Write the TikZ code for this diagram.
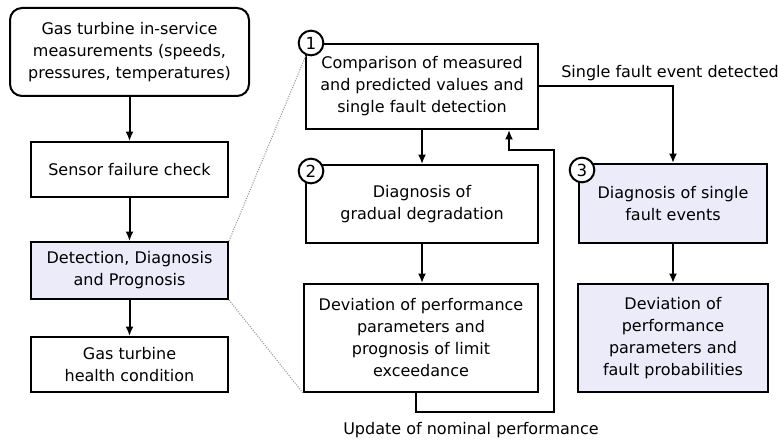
\documentclass[tikz,border=0pt]{standalone}
\usepackage{fontspec}
\setmainfont{DejaVu Sans}
\usetikzlibrary{arrows.meta,calc}

\definecolor{paleblue}{RGB}{235,235,250}

\tikzset{
    box/.style={draw, line width=1.5pt, align=center, inner sep=0pt,
        font=\fontsize{12}{16.5}\selectfont},
    hlbox/.style={box, fill=paleblue},
    num/.style={draw, circle, fill=white, line width=1.5pt, inner sep=0pt,
        minimum size=18.5pt, font=\fontsize{12.5}{12.5}\selectfont},
    flow/.style={line width=1.5pt, -{Latex[length=7pt,width=6pt]}},
    zoomline/.style={gray!80, densely dotted, line width=0.8pt},
    lbl/.style={inner sep=0pt, font=\fontsize{12}{14}\selectfont},
}

\begin{document}
\begin{tikzpicture}[x=0.75pt, y=-0.75pt]
    \useasboundingbox (0,0) rectangle (778,445);

    % ================= left: overall chain =================
    % 1. boxes
    \node[box, rounded corners=9pt, minimum width=179.25pt, minimum height=66pt] (meas) at (129.5,52)
        {Gas turbine in-service\\measurements (speeds,\\pressures, temperatures)};
    \node[box, minimum width=147.75pt, minimum height=41.25pt] (sensor) at (129.5,169.5)
        {Sensor failure check};
    \node[hlbox, minimum width=147.75pt, minimum height=42.75pt] (ddp) at (129.5,270.5)
        {Detection, Diagnosis\\and Prognosis};
    \node[box, minimum width=147.75pt, minimum height=41.25pt] (health) at (129.5,364.5)
        {Gas turbine\\health condition};

    % 2. arrows
    \draw[flow] (meas) -- (sensor);
    \draw[flow] (sensor) -- (ddp);
    \draw[flow] (ddp) -- (health);

    % ================= middle: gradual degradation =================
    % 1. boxes
    \node[box, minimum width=174pt, minimum height=63.75pt] (cmp) at (422,86.5)
        {Comparison of measured\\and predicted values and\\single fault detection};
    \node[box, minimum width=174pt, minimum height=58.5pt] (grad) at (422,204)
        {Diagnosis of\\gradual degradation};
    \node[box, minimum width=175.5pt, minimum height=81pt] (devp) at (421,338)
        {Deviation of performance\\parameters and\\prognosis of limit\\exceedance};

    % 2. arrows
    \draw[flow] (cmp) -- (grad);
    \draw[flow] (grad.south) -- (grad.south |- devp.north);

    % 3. feedback loop
    \coordinate (fbA) at (554,412);
    \coordinate (fbB) at (509,150);
    \draw[flow] ($(devp.south)+(-5,0)$) |- (fbA) |- (fbB) -- ($(cmp.south)+(87,0)$);
    \node[lbl] (upd) at (471,430) {Update of nominal performance};

    % ================= right: single fault events =================
    % 1. boxes
    \node[hlbox, minimum width=141pt, minimum height=59.25pt] (sfd) at (673,203.5)
        {Diagnosis of single\\fault events};
    \node[hlbox, minimum width=142.5pt, minimum height=81pt] (devf) at (673,338)
        {Deviation of\\performance\\parameters and\\fault probabilities};

    % 2. arrows
    \draw[flow] (cmp.east) -| (sfd.north);
    \draw[flow] (sfd) -- (devf);
    \node[lbl] (sfe) at (670,73) {Single fault event detected};

    % ================= step numbers =================
    \node[num] (n1) at (311,43) {1};
    \node[num] (n2) at (311,171) {2};
    \node[num] (n3) at (582,170) {3};

    % ================= zoom lines =================
    \draw[zoomline] (ddp.north east) -- (n1);
    \draw[zoomline] (ddp.south east) -- (devp.south west);
\end{tikzpicture}
\end{document}
